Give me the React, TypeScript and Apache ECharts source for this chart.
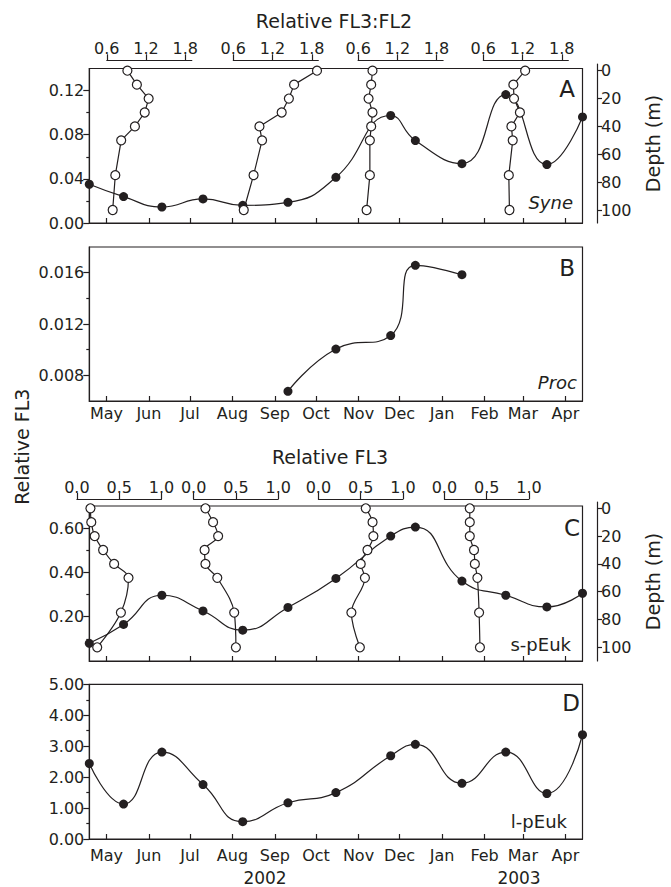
import React, { useEffect, useRef } from 'react';
import * as echarts from 'echarts';

// Sampling dates, as day number counted from 1 Jan 2002 (1 Jan 2002 = 0)
const sampleDays = [107.5, 132.5, 160.5, 190.5, 219.5, 252.5, 287.5, 327.5, 345.5, 379.5, 411.5, 441.5, 467.5];
// First day of each month (May 2002 .. Apr 2003)
const monthTicks = [120, 151, 181, 212, 243, 273, 304, 334, 365, 396, 424, 455];
const monthLabels = ['May', 'Jun', 'Jul', 'Aug', 'Sep', 'Oct', 'Nov', 'Dec', 'Jan', 'Feb', 'Mar', 'Apr'];

// Panel series (relative FL3)
const syneValues = [0.0351, 0.0239, 0.0145, 0.0218, 0.016, 0.0187, 0.0414, 0.0974, 0.0747, 0.0538, 0.1164, 0.0529, 0.0961];
const procValues = [null, null, null, null, null, 0.00675, 0.01005, 0.0111, 0.01657, 0.01584, null, null, null];
const spEukValues = [0.08, 0.165, 0.297, 0.226, 0.139, 0.242, 0.373, 0.564, 0.605, 0.361, 0.297, 0.244, 0.306];
const lpEukValues = [2.44, 1.13, 2.81, 1.76, 0.56, 1.17, 1.5, 2.69, 3.06, 1.8, 2.81, 1.47, 3.37];

// Depth profiles
const depths = [0, 10, 20, 30, 40, 50, 75, 100];
const fl3fl2Profile1 = [0.915, 1.06, 1.24, 1.18, 1.03, 0.82, 0.73, 0.69];
const fl3fl2Profile2 = [1.88, 1.53, 1.45, 1.34, 1.0, 1.04, 0.91, 0.76];
const fl3fl2Profile3 = [0.82, 0.8, 0.76, 0.82, 0.8, 0.78, 0.78, 0.73];
const fl3fl2Profile4 = [1.24, 1.06, 1.07, 1.16, 1.03, 1.05, 0.99, 1.0];
const fl3Profile1 = [0.16, 0.17, 0.21, 0.31, 0.44, 0.61, 0.52, 0.24];
const fl3Profile2 = [0.14, 0.23, 0.29, 0.13, 0.14, 0.28, 0.48, 0.5];
const fl3Profile3 = [0.56, 0.64, 0.65, 0.58, 0.5, 0.55, 0.39, 0.49];
const fl3Profile4 = [0.3, 0.3, 0.3, 0.35, 0.36, 0.39, 0.41, 0.42];

// Tick values
const depthTicks = [0, 20, 40, 60, 80, 100];
const fl3fl2Ticks = [0.6, 1.2, 1.8];
const fl3Ticks = [0, 0.5, 1.0];
const ticksA = [0, 0.04, 0.08, 0.12];
const minorA = [0.02, 0.06, 0.1];
const ticksB = [0.008, 0.012, 0.016];
const minorB = [0.01, 0.014];
const ticksC = [0.2, 0.4, 0.6];
const minorC = [0.1, 0.3, 0.5];
const ticksD = [0, 1, 2, 3, 4, 5];
const minorD = [0.5, 1.5, 2.5, 3.5, 4.5];

const INK = '#231f20';
const FONT = "'DejaVu Sans', sans-serif";

export default function App() {
  const ref = useRef<HTMLDivElement>(null);

  useEffect(() => {
    if (!ref.current) return;
    const chart = echarts.init(ref.current, null, { renderer: 'svg' });

    const L = 89.3;
    const W = 493.2;
    const panels = [
      { top: 68.5, height: 154.5, min: 0, max: 0.14, ticks: ticksA, minor: minorA, dp: 2, labels: false, margin: 5, values: syneValues },
      { top: 247, height: 154, min: 0.006, max: 0.018, ticks: ticksB, minor: minorB, dp: 3, labels: true, margin: 4, values: procValues },
      { top: 506, height: 155, min: 0, max: 0.7, ticks: ticksC, minor: minorC, dp: 2, labels: false, margin: 5, values: spEukValues },
      { top: 684.3, height: 154.7, min: 0, max: 5, ticks: ticksD, minor: minorD, dp: 2, labels: true, margin: 8, values: lpEukValues },
    ];
    const profA = [fl3fl2Profile1, fl3fl2Profile2, fl3fl2Profile3, fl3fl2Profile4];
    const profALeft = [106.8, 233.3, 358.1, 483.3];
    const profC = [fl3Profile1, fl3Profile2, fl3Profile3, fl3Profile4];
    const profCLeft = [76.9, 193.6, 318.4, 444.4];

    const grid: any[] = [];
    const xAxis: any[] = [];
    const yAxis: any[] = [];
    const series: any[] = [];
    const tickStyle = { color: INK, width: 1.2 };
    const labelStyle = { color: INK, fontSize: 16, fontFamily: FONT };

    panels.forEach((p, i) => {
      const gi = grid.length;
      grid.push({ left: L, top: p.top, width: W, height: p.height, show: true, borderColor: INK, borderWidth: 1.2, backgroundColor: 'transparent' });
      const xi = xAxis.length;
      xAxis.push({
        type: 'value', gridIndex: gi, min: 107.5, max: 467.5,
        axisLine: { onZero: false, lineStyle: tickStyle },
        axisTick: { inside: true, length: 5, customValues: monthTicks, lineStyle: tickStyle },
        axisLabel: {
          show: p.labels, customValues: monthTicks, margin: p.margin, ...labelStyle,
          formatter: (v: number) => monthLabels[monthTicks.indexOf(Math.round(v))] || '',
        },
        splitLine: { show: false },
      });
      const yi = yAxis.length;
      yAxis.push({
        type: 'value', gridIndex: gi, position: 'left', min: p.min, max: p.max,
        axisLine: { show: true, onZero: false, lineStyle: tickStyle },
        axisTick: { show: true, length: 6, customValues: p.ticks, lineStyle: tickStyle },
        axisLabel: { customValues: p.ticks, margin: 5, ...labelStyle, formatter: (v: number) => v.toFixed(p.dp) },
        splitLine: { show: false },
      });
      yAxis.push({
        type: 'value', gridIndex: gi, position: 'left', offset: 0, min: p.min, max: p.max,
        axisLine: { show: false },
        axisTick: { show: true, length: 3, customValues: p.minor, lineStyle: tickStyle },
        axisLabel: { show: false },
        splitLine: { show: false },
      });
      const data: any[] = [];
      sampleDays.forEach((d, j) => {
        const v = p.values[j];
        if (v !== null && v !== undefined) data.push([d, v]);
      });
      series.push({
        type: 'line', xAxisIndex: xi, yAxisIndex: yi, data, smooth: true, clip: false,
        symbol: 'circle', symbolSize: 9, showSymbol: true,
        itemStyle: { color: INK, borderColor: INK, borderWidth: 0 },
        lineStyle: { color: INK, width: 1.2 }, z: 2,
      });
    });

    const addProfiles = (
      profiles: number[][], lefts: number[], width: number, top: number, height: number,
      offset: number, min: number, max: number, ticks: number[], smooth: number
    ) => {
      profiles.forEach((vals, k) => {
        const gi = grid.length;
        grid.push({ left: lefts[k], top, width, height, show: false });
        const xi = xAxis.length;
        xAxis.push({
          type: 'value', gridIndex: gi, position: 'top', offset, min, max,
          axisLine: { show: true, onZero: false, lineStyle: tickStyle },
          axisTick: { show: true, inside: false, length: 6, customValues: ticks, lineStyle: tickStyle },
          axisLabel: { customValues: ticks, margin: 4, ...labelStyle, formatter: (v: number) => v.toFixed(1) },
          splitLine: { show: false },
        });
        const yi = yAxis.length;
        yAxis.push({ type: 'value', gridIndex: gi, min: 0, max: 100, inverse: true, show: false, splitLine: { show: false } });
        series.push({
          type: 'line', xAxisIndex: xi, yAxisIndex: yi, clip: false, smooth,
          data: depths.map((d, j) => [vals[j], d]),
          symbol: 'circle', symbolSize: 9, showSymbol: true,
          itemStyle: { color: '#ffffff', borderColor: INK, borderWidth: 1.2 },
          lineStyle: { color: INK, width: 1.2 }, z: 3,
        });
      });
    };
    addProfiles(profA, profALeft, 85, 70.7, 139.3, 10.4, 0.6, 1.9, fl3fl2Ticks, 0);
    addProfiles(profC, profCLeft, 84.6, 508.3, 139, 9.3, 0, 1, fl3Ticks, 0.35);

    const addDepthAxis = (top: number, height: number, min: number, max: number) => {
      const gi = grid.length;
      grid.push({ left: 500, top, width: 97, height, show: false });
      xAxis.push({ type: 'value', gridIndex: gi, show: false, min: 0, max: 1 });
      yAxis.push({
        type: 'value', gridIndex: gi, position: 'right', min, max, inverse: true,
        axisLine: { show: true, onZero: false, lineStyle: tickStyle },
        axisTick: { show: true, length: 5, customValues: depthTicks, lineStyle: tickStyle },
        axisLabel: { customValues: depthTicks, margin: 4, ...labelStyle },
        splitLine: { show: false },
        name: 'Depth (m)', nameLocation: 'middle', nameRotate: 90, nameGap: 46,
        nameTextStyle: { color: INK, fontSize: 19, fontFamily: FONT },
      });
    };
    addDepthAxis(64, 159, -4.8, 109.3);
    addDepthAxis(502, 159, -4.5, 109.9);

    const txt = (text: string, x: number, y: number, size: number, align = 'center', extra: any = {}) => ({
      type: 'text', x, y, silent: true, ...extra,
      style: {
        text, fill: INK, fontSize: size, fontFamily: FONT,
        align, verticalAlign: 'middle', textAlign: align, textVerticalAlign: 'middle',
        fontStyle: extra.italic ? 'italic' : 'normal',
      },
    });

    const graphic = [
      txt('Relative FL3:FL2', 334, 21, 19),
      txt('Relative FL3', 330, 457, 19),
      txt('Relative FL3', 21.7, 446.7, 19, 'center', { rotation: Math.PI / 2 }),
      txt('A', 575, 89, 23, 'right'),
      txt('B', 575, 268.3, 23, 'right'),
      txt('C', 580, 527.7, 23, 'right'),
      txt('D', 580, 703.3, 23, 'right'),
      txt('Syne', 573, 202.7, 18, 'right', { italic: true }),
      txt('Proc', 577, 382.3, 18, 'right', { italic: true }),
      txt('s-pEuk', 571, 644, 18, 'right'),
      txt('l-pEuk', 567, 821.7, 18, 'right'),
      txt('2002', 265, 878, 17),
      txt('2003', 519, 878, 17),
    ].map((g: any) => { const { italic, ...rest } = g; return rest; });

    chart.setOption({
      animation: false,
      backgroundColor: '#ffffff',
      grid, xAxis, yAxis, series, graphic,
    });

    return () => chart.dispose();
  }, []);

  return <div ref={ref} style={{ position: 'absolute', left: 0, top: 0, width: 671, height: 887 }} />;
}
